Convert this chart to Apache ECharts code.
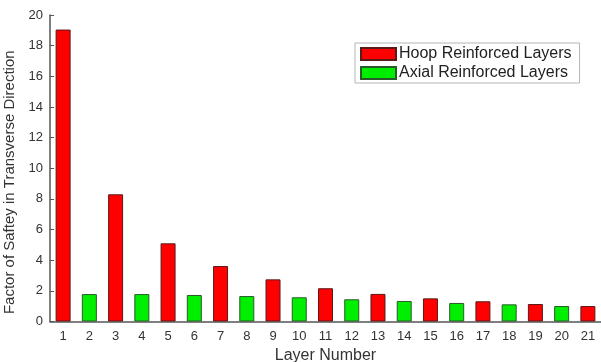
<!DOCTYPE html>
<html>
<head>
<meta charset="utf-8">
<script src="https://cdn.jsdelivr.net/npm/echarts@6/dist/echarts.min.js"></script>
<style>
  html, body { margin: 0; padding: 0; background: #fff; }
  #chart { width: 601px; height: 362px; }
</style>
</head>
<body>
<div id="chart"></div>
<script>
// Layer numbers along the pipe wall
const layers = ['1','2','3','4','5','6','7','8','9','10','11','12','13','14','15','16','17','18','19','20','21'];
// Hoop reinforced layers sit on odd layer numbers, axial on even ones
const hoopValues  = [19.05, null, 8.3, null, 5.1, null, 3.62, null, 2.75, null, 2.17, null, 1.8, null, 1.51, null, 1.32, null, 1.14, null, 1.01];
const axialValues = [null, 1.79, null, 1.79, null, 1.73, null, 1.66, null, 1.58, null, 1.45, null, 1.34, null, 1.21, null, 1.12, null, 1.01, null];
const yTicks = { min: 0, max: 20, interval: 2 };

const font = 'Liberation Sans, Arial, sans-serif';
const chart = echarts.init(document.getElementById('chart'), null, { renderer: 'canvas' });

chart.setOption({
  animation: false,
  backgroundColor: '#ffffff',
  grid: { left: 50, right: 0, top: 15, bottom: 40.5, containLabel: false, outerBoundsMode: 'none' },
  legend: {
    orient: 'vertical',
    left: 355,
    top: 43,
    padding: [3, 8, 2, 5],
    itemWidth: 35,
    itemHeight: 12,
    itemGap: 3,
    borderColor: '#b4b4b4',
    borderWidth: 1,
    icon: 'rect',
    textStyle: { fontFamily: font, fontSize: 16, lineHeight: 16, color: '#222', padding: [0, 0, 0, -2] },
    data: ['Hoop Reinforced Layers', 'Axial Reinforced Layers']
  },
  xAxis: {
    type: 'category',
    data: layers,
    name: 'Layer Number',
    nameLocation: 'middle',
    nameGap: 21,
    nameTextStyle: { fontFamily: font, fontSize: 16, color: '#333' },
    axisLine: { lineStyle: { color: '#555', width: 1.5 } },
    axisTick: { show: false },
    axisLabel: { fontFamily: font, fontSize: 13, color: '#333', margin: 8 }
  },
  yAxis: {
    type: 'value',
    min: yTicks.min,
    max: yTicks.max,
    interval: yTicks.interval,
    name: 'Factor of Saftey in Transverse Direction',
    nameLocation: 'middle',
    nameGap: 28,
    nameTextStyle: { fontFamily: font, fontSize: 15, color: '#333', padding: [0, 0, 0, -28] },
    axisLine: { show: true, lineStyle: { color: '#555', width: 1.5 } },
    axisTick: { show: true, inside: true, length: 4, lineStyle: { color: '#555' } },
    splitLine: { show: false },
    axisLabel: { fontFamily: font, fontSize: 13, color: '#333', margin: 7 }
  },
  series: [
    {
      name: 'Hoop Reinforced Layers',
      type: 'bar',
      data: hoopValues,
      barWidth: 15,
      barGap: '-100%',
      itemStyle: { color: '#ff0000', borderColor: '#5a1a1a', borderWidth: 1 }
    },
    {
      name: 'Axial Reinforced Layers',
      type: 'bar',
      data: axialValues,
      barWidth: 15,
      barGap: '-100%',
      itemStyle: { color: '#00ee00', borderColor: '#2a5a2a', borderWidth: 1 }
    }
  ]
});
</script>
</body>
</html>
